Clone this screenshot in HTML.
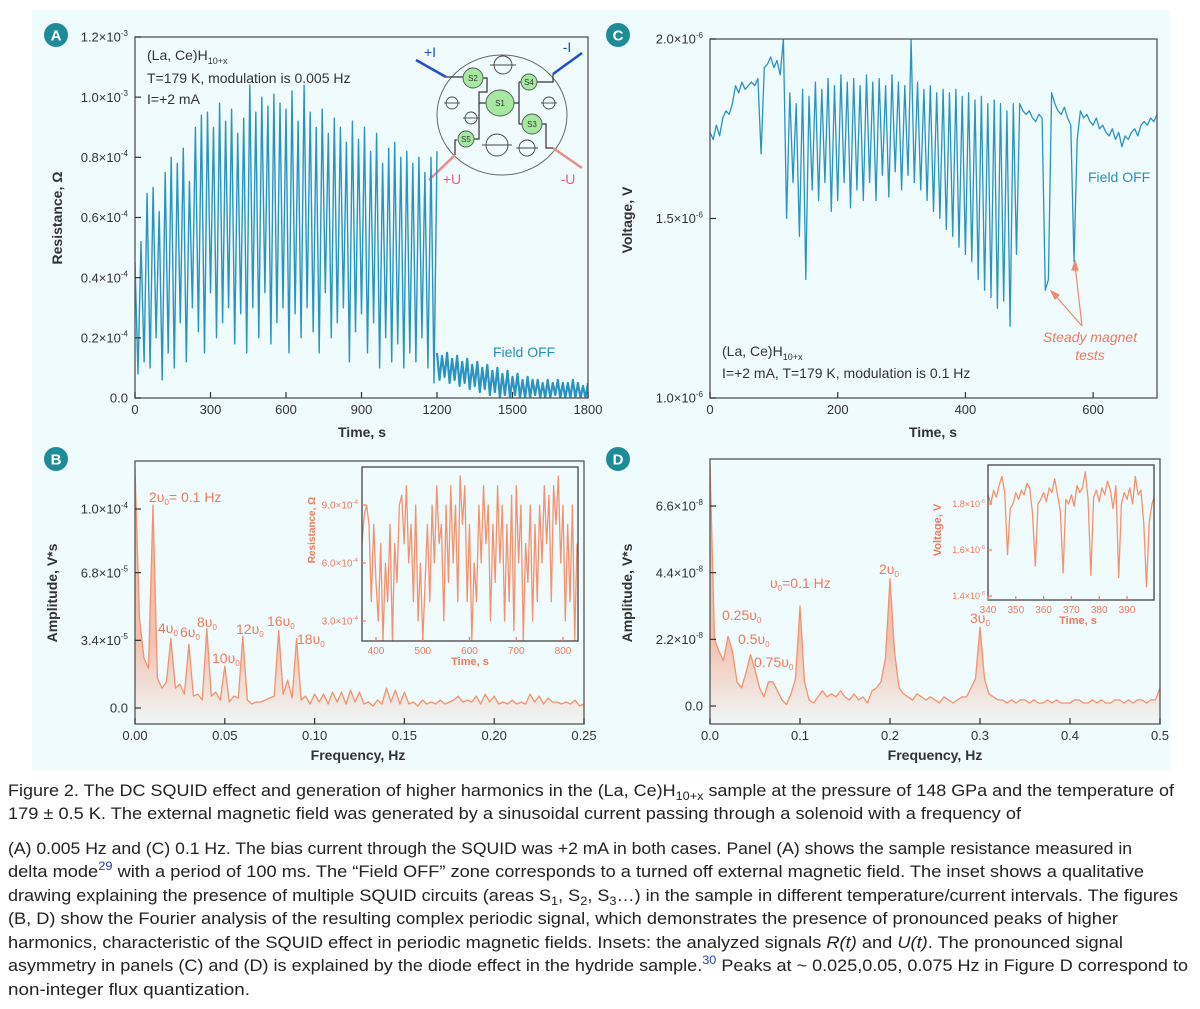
<!DOCTYPE html>
<html><head><meta charset="utf-8">
<style>
html,body{margin:0;padding:0;background:#fff;}
body{width:1200px;height:1004px;overflow:hidden;font-family:"Liberation Sans",sans-serif;}
svg text{font-family:"Liberation Sans",sans-serif;}
</style></head>
<body>
<svg id="fig" width="1200" height="1004" viewBox="0 0 1200 1004" xmlns="http://www.w3.org/2000/svg">
<defs>
<linearGradient id="gB" gradientUnits="userSpaceOnUse" x1="0" y1="640" x2="0" y2="724"><stop offset="0" stop-color="#f4926f" stop-opacity="0.55"/><stop offset="1" stop-color="#f4926f" stop-opacity="0.04"/></linearGradient>
<linearGradient id="gD" gradientUnits="userSpaceOnUse" x1="0" y1="640" x2="0" y2="724"><stop offset="0" stop-color="#f4926f" stop-opacity="0.55"/><stop offset="1" stop-color="#f4926f" stop-opacity="0.04"/></linearGradient>
<clipPath id="cA"><rect x="135" y="37" width="453" height="361"/></clipPath>
<clipPath id="cC"><rect x="710" y="39" width="447" height="359"/></clipPath>
<clipPath id="cB"><rect x="135" y="461" width="449" height="263"/></clipPath>
<clipPath id="cD"><rect x="710" y="459" width="450" height="265"/></clipPath>
<clipPath id="cBi"><rect x="362" y="467" width="216" height="174"/></clipPath>
<clipPath id="cDi"><rect x="988" y="465" width="166" height="135"/></clipPath>
</defs>
<rect x="32" y="10" width="1138" height="760" fill="#f0fbfd"/>

<g><circle cx="56" cy="35" r="12" fill="#1f8a98"/><text x="56" y="40.5" font-size="15" fill="#fff" text-anchor="middle" font-weight="bold">A</text></g>
<g><circle cx="618" cy="35" r="12" fill="#1f8a98"/><text x="618" y="40.5" font-size="15" fill="#fff" text-anchor="middle" font-weight="bold">C</text></g>
<g><circle cx="56" cy="459" r="12" fill="#1f8a98"/><text x="56" y="464.5" font-size="15" fill="#fff" text-anchor="middle" font-weight="bold">B</text></g>
<g><circle cx="618" cy="459" r="12" fill="#1f8a98"/><text x="618" y="464.5" font-size="15" fill="#fff" text-anchor="middle" font-weight="bold">D</text></g>

<text transform="translate(62,218) rotate(-90)" text-anchor="middle" font-size="14" font-weight="bold" fill="#333">Resistance, Ω</text>
<text x="362" y="437" text-anchor="middle" font-size="14" font-weight="bold" fill="#333">Time, s</text>
<text transform="translate(632,220) rotate(-90)" text-anchor="middle" font-size="14" font-weight="bold" fill="#333">Voltage, V</text>
<text x="933" y="437" text-anchor="middle" font-size="14" font-weight="bold" fill="#333">Time, s</text>
<text transform="translate(57,593) rotate(-90)" text-anchor="middle" font-size="14" font-weight="bold" fill="#333">Amplitude, V*s</text>
<text x="358" y="760" text-anchor="middle" font-size="14" font-weight="bold" fill="#333">Frequency, Hz</text>
<text transform="translate(632,593) rotate(-90)" text-anchor="middle" font-size="14" font-weight="bold" fill="#333">Amplitude, V*s</text>
<text x="935" y="760" text-anchor="middle" font-size="14" font-weight="bold" fill="#333">Frequency, Hz</text>

<g font-size="14" fill="#333">
<text x="147" y="60">(La, Ce)H<tspan font-size="9" dy="4">10+x</tspan></text>
<text x="147" y="83">T=179 K, modulation is 0.005 Hz</text>
<text x="147" y="104">I=+2 mA</text>
</g>
<text x="493" y="357" font-size="14" fill="#2a8fb5">Field OFF</text>

<g fill="none">
<ellipse cx="502" cy="115" rx="65" ry="60" stroke="#666" stroke-width="1"/>
<path d="M446,77 H463 M483,78 H487 V92 H479 V139 H474 M457,140 H455 V155 M479,103 H486 M514,103 H519 M519,82 V124 M519,82 H521 M519,124 H522 M537,82 H553 V74 M542,124 H546 V148 H553" stroke="#333" stroke-width="1.2"/>
<line x1="416" y1="60" x2="446" y2="77" stroke="#1f4fc8" stroke-width="2.5"/>
<line x1="582" y1="53" x2="553" y2="74" stroke="#1f4fc8" stroke-width="2.5"/>
<line x1="429" y1="180" x2="455" y2="155" stroke="#f08a8a" stroke-width="2.5"/>
<line x1="582" y1="168" x2="553" y2="148" stroke="#f08a8a" stroke-width="2.5"/>
<g stroke="#444" stroke-width="0.9">
<circle cx="503" cy="65" r="9"/><line x1="490" y1="65" x2="516" y2="65"/>
<circle cx="452" cy="103" r="6"/><line x1="444" y1="103" x2="460" y2="103"/>
<circle cx="471" cy="118" r="6"/><line x1="463" y1="118" x2="479" y2="118"/>
<circle cx="549" cy="103" r="6"/><line x1="541" y1="103" x2="557" y2="103"/>
<circle cx="497" cy="145" r="11"/><line x1="482" y1="145" x2="512" y2="145"/>
<circle cx="527" cy="148" r="8"/><line x1="516" y1="148" x2="538" y2="148"/>
</g>
<g fill="#a6e8a0" stroke="#555" stroke-width="0.9">
<ellipse cx="500" cy="103" rx="14" ry="13"/><circle cx="473" cy="78" r="10"/><circle cx="529" cy="82" r="8"/><circle cx="532" cy="124" r="10"/><circle cx="466" cy="139" r="8"/>
</g>
<g font-size="8" fill="#333" stroke="none" text-anchor="middle">
<text x="500" y="106">S1</text><text x="473" y="81">S2</text><text x="529" y="85">S4</text><text x="532" y="127">S3</text><text x="466" y="142">S5</text>
</g>
<text x="430" y="57" font-size="14" fill="#1f4fc8" stroke="none" text-anchor="middle">+I</text>
<text x="567" y="52" font-size="14" fill="#1f4fc8" stroke="none" text-anchor="middle">-I</text>
<text x="452" y="184" font-size="14" fill="#e8607a" stroke="none" text-anchor="middle">+U</text>
<text x="568" y="184" font-size="14" fill="#e8607a" stroke="none" text-anchor="middle">-U</text>
</g>

<g font-size="14" fill="#333">
<text x="722" y="356">(La, Ce)H<tspan font-size="9" dy="4">10+x</tspan></text>
<text x="722" y="378">I=+2 mA, T=179 K, modulation is 0.1 Hz</text>
</g>
<text x="1088" y="182" font-size="14" fill="#2a8fb5">Field OFF</text>
<g>
<text x="1090" y="342" font-size="14" font-style="italic" fill="#ee7a5e" text-anchor="middle">Steady magnet</text>
<text x="1090" y="360" font-size="14" font-style="italic" fill="#ee7a5e" text-anchor="middle">tests</text>
<g stroke="#ee8a6e" stroke-width="1.2" fill="#ee8a6e">
<line x1="1082" y1="326" x2="1053" y2="293"/><polygon points="1051,291 1059,295 1055,299"/>
<line x1="1082" y1="326" x2="1075" y2="265"/><polygon points="1075,261 1078,270 1072,270"/>
</g>
</g>

<g font-size="14" fill="#ee7a5e">
<text x="149" y="502">2υ<tspan font-size="8" dy="3">0</tspan><tspan dy="-3">= 0.1 Hz</tspan></text>
<text x="158" y="633">4υ<tspan font-size="8" dy="3">0</tspan></text>
<text x="180" y="637">6υ<tspan font-size="8" dy="3">0</tspan></text>
<text x="197" y="627">8υ<tspan font-size="8" dy="3">0</tspan></text>
<text x="212" y="663">10υ<tspan font-size="8" dy="3">0</tspan></text>
<text x="236" y="634">12υ<tspan font-size="8" dy="3">0</tspan></text>
<text x="267" y="626">16υ<tspan font-size="8" dy="3">0</tspan></text>
<text x="297" y="644">18υ<tspan font-size="8" dy="3">0</tspan></text>
</g>
<g font-size="14" fill="#ee7a5e">
<text x="770" y="588">υ<tspan font-size="8" dy="3">0</tspan><tspan dy="-3">=0.1 Hz</tspan></text>
<text x="879" y="574">2υ<tspan font-size="8" dy="3">0</tspan></text>
<text x="722" y="620">0.25υ<tspan font-size="8" dy="3">0</tspan></text>
<text x="738" y="644">0.5υ<tspan font-size="8" dy="3">0</tspan></text>
<text x="754" y="667">0.75υ<tspan font-size="8" dy="3">0</tspan></text>
<text x="970" y="623">3υ<tspan font-size="8" dy="3">0</tspan></text>
</g>

<g font-size="17" fill="#222">
<text x="8" y="796" textLength="1166" lengthAdjust="spacingAndGlyphs">Figure 2.  The DC SQUID effect and generation of higher harmonics in the (La, Ce)H<tspan font-size="12" dy="4">10+x</tspan><tspan dy="-4"> sample at the pressure of 148 GPa and the temperature of</tspan></text>
<text x="8" y="819" textLength="1013" lengthAdjust="spacingAndGlyphs">179 ± 0.5 K. The external magnetic field was generated by a sinusoidal current passing through a solenoid with a frequency of</text>
<text x="8" y="854" textLength="1124" lengthAdjust="spacingAndGlyphs">(A) 0.005 Hz and (C) 0.1 Hz. The bias current through the SQUID was +2 mA in both cases. Panel (A) shows the sample resistance measured in</text>
<text x="8" y="877" textLength="1136" lengthAdjust="spacingAndGlyphs">delta mode<tspan font-size="12" dy="-7" fill="#2b3fb0">29</tspan><tspan dy="7"> with a period of 100 ms. The “Field OFF” zone corresponds to a turned off external magnetic field. The inset shows a qualitative</tspan></text>
<text x="8" y="901" textLength="1170" lengthAdjust="spacingAndGlyphs">drawing explaining the presence of multiple SQUID circuits (areas S<tspan font-size="12" dy="4">1</tspan><tspan dy="-4">, S</tspan><tspan font-size="12" dy="4">2</tspan><tspan dy="-4">, S</tspan><tspan font-size="12" dy="4">3</tspan><tspan dy="-4">…) in the sample in different temperature/current intervals. The figures</tspan></text>
<text x="8" y="924" textLength="1110" lengthAdjust="spacingAndGlyphs">(B, D) show the Fourier analysis of the resulting complex periodic signal, which demonstrates the presence of pronounced peaks of higher</text>
<text x="8" y="948" textLength="1115" lengthAdjust="spacingAndGlyphs">harmonics, characteristic of the SQUID effect in periodic magnetic fields. Insets: the analyzed signals <tspan font-style="italic">R(t)</tspan> and <tspan font-style="italic">U(t)</tspan>. The pronounced signal</text>
<text x="8" y="971" textLength="1180" lengthAdjust="spacingAndGlyphs">asymmetry in panels (C) and (D) is explained by the diode effect in the hydride sample.<tspan font-size="12" dy="-7" fill="#2b3fb0">30</tspan><tspan dy="7"> Peaks at ~ 0.025,0.05, 0.075 Hz in Figure D correspond to</tspan></text>
<text x="8" y="995" textLength="242" lengthAdjust="spacingAndGlyphs">non-integer flux quantization.</text>
</g>
</svg>

<script>
const aOnStart = 0, aOnEnd = 1200;
const aOnValues = [0.45,0.08,0.52,0.12,0.68,0.1,0.7,0.2,0.62,0.06,0.75,0.15,0.8,0.1,0.78,0.25,0.83,0.12,0.72,0.3,0.9,0.22,0.94,0.15,0.95,0.35,0.9,0.2,0.98,0.25,0.92,0.3,0.96,0.18,0.88,0.28,0.93,0.15,1.04,0.3,0.95,0.2,1.0,0.35,0.97,0.18,1.01,0.25,0.98,0.3,0.96,0.15,1.02,0.28,0.92,0.2,1.04,0.3,0.95,0.22,0.9,0.15,0.96,0.35,0.88,0.2,0.93,0.25,0.9,0.3,0.85,0.12,0.92,0.22,0.86,0.28,0.9,0.15,0.82,0.25,0.88,0.1,0.78,0.2,0.83,0.12,0.85,0.18,0.8,0.1,0.82,0.15,0.78,0.12,0.8,0.2,0.75,0.1,0.8,0.05,0.82];
const aOffStart = 1200, aOffEnd = 1800;
const aOffValues = [0.15,0.06,0.14,0.07,0.15,0.05,0.13,0.06,0.14,0.04,0.12,0.05,0.13,0.03,0.11,0.04,0.12,0.02,0.1,0.03,0.11,0.01,0.09,0.02,0.1,0.0,0.08,0.01,0.09,0.0,0.07,0.01,0.08,0.0,0.06,0.0,0.07,0.0,0.06,0.01,0.06,0.0,0.05,0.0,0.06,0.0,0.05,0.01,0.06,0.0,0.05,0.0,0.05,0.0,0.06,0.0,0.05,0.0,0.04,0.0,0.05];
const aXTicks = [0,300,600,900,1200,1500,1800];
const aYTicks = [0,0.2,0.4,0.6,0.8,1.0,1.2];
const aYTickMant = ["0.0","0.2×10","0.4×10","0.6×10","0.8×10","1.0×10","1.2×10"];
const aYTickExp = ["","-4","-4","-4","-4","-3","-3"];

const cStart = 0, cEnd = 700;
const cValues = [1.74,1.72,1.76,1.73,1.78,1.8,1.79,1.82,
1.87,1.85,1.88,1.86,1.87,1.88,1.87,1.89,
1.68,1.92,1.93,1.95,1.92,1.94,1.9,
2.0,
1.5,1.85,1.6,1.82,1.45,1.86,1.33,1.84,1.58,1.88,
1.55,1.86,1.6,1.89,1.52,1.87,1.55,1.9,1.6,1.88,
1.53,1.89,1.58,1.87,1.55,1.9,1.6,1.88,1.55,1.89,
1.62,1.87,1.56,1.9,1.63,1.88,1.58,1.87,1.62,2.0,
1.6,1.88,1.58,1.86,1.55,1.87,1.52,1.85,1.5,1.86,
1.47,1.85,1.45,1.86,1.42,1.84,1.4,1.85,1.38,1.83,
1.33,1.84,1.3,1.82,1.28,1.83,1.25,1.82,1.27,1.8,
1.2,1.82,1.4,
1.82,1.8,1.79,1.8,1.78,1.77,1.79,1.78,
1.3,1.33,1.85,1.82,1.8,1.79,1.81,1.78,1.76,1.38,1.72,
1.8,1.78,1.79,1.77,1.76,1.78,1.75,1.76,1.74,1.73,1.75,1.72,1.74,1.7,1.73,1.72,1.74,1.75,1.73,1.76,1.77,1.76,1.78,1.77,1.79];
const cXTicks = [0,200,400,600];
const cYTicks = [1.0,1.5,2.0];
const cYTickMant = ["1.0×10","1.5×10","2.0×10"];
const cYTickExp = ["-6","-6","-6"];

const bStart = 0, bEnd = 0.25;
const bValues = [12,4.5,2.5,2.0,10.2,1.5,1.0,1.3,3.5,1.0,1.2,0.7,3.2,0.6,0.7,0.4,4.0,0.6,0.8,0.4,2.1,0.3,0.6,0.5,3.6,0.4,0.2,0.3,0.3,0.4,0.5,0.6,3.9,0.7,1.4,0.5,3.5,0.4,0.6,0.2,0.7,0.3,0.7,0.2,0.8,0.3,0.8,0.2,0.9,0.3,0.8,0.2,0.3,0.1,0.4,0.2,1.0,0.3,0.9,0.2,0.8,0.2,0.3,0.1,0.4,0.2,0.3,0.2,0.4,0.2,0.3,0.4,0.6,0.3,0.4,0.3,0.6,0.2,0.7,0.3,0.6,0.2,0.3,0.2,0.4,0.2,0.3,0.2,0.7,0.3,0.6,0.2,0.5,0.3,0.3,0.2,0.3,0.2,0.4,0.1,0.2];
const bXTicks = [0,0.05,0.10,0.15,0.20,0.25];
const bXTickLabels = ["0.00","0.05","0.10","0.15","0.20","0.25"];
const bYTicks = [0,3.4,6.8,10];
const bYTickMant = ["0.0","3.4×10","6.8×10","1.0×10"];
const bYTickExp = ["","-5","-5","-4"];

const dStart = 0, dEnd = 0.5;
const dValues = [8.0,2.2,1.8,1.5,2.3,1.8,0.8,0.6,1.1,1.7,1.2,0.6,0.3,0.8,0.8,0.5,0.2,0.05,0.4,0.9,3.3,0.8,0.2,0.1,0.3,0.5,0.3,0.4,0.3,0.5,0.3,0.2,0.4,0.2,0.3,0.1,0.5,0.6,0.8,1.6,4.2,1.8,0.6,0.4,0.3,0.2,0.4,0.3,0.2,0.3,0.2,0.1,0.3,0.2,0.1,0.2,0.3,0.3,0.6,0.9,2.6,0.9,0.4,0.3,0.2,0.2,0.1,0.2,0.1,0.2,0.2,0.1,0.2,0.1,0.1,0.2,0.1,0.2,0.1,0.1,0.1,0.2,0.2,0.1,0.1,0.2,0.1,0.2,0.1,0.1,0.2,0.2,0.1,0.2,0.1,0.2,0.2,0.1,0.2,0.2,0.6];
const dXTicks = [0,0.1,0.2,0.3,0.4,0.5];
const dXTickLabels = ["0.0","0.1","0.2","0.3","0.4","0.5"];
const dYTicks = [0,2.2,4.4,6.6];
const dYTickMant = ["0.0","2.2×10","4.4×10","6.6×10"];
const dYTickExp = ["","-8","-8","-8"];

const biStart = 370, biEnd = 830;
const biValues = [7,8.5,9,8,4,8,5,3,7,2,6,4,8,2,7,5,9,9.5,7,10,6,8,4,9,3,6,2,5,8,4,9,6,10,7,8,3,9,5,10,6,9,4,10.5,8,10,4,8,2,6,4,9,6,10,7,9,3,8,5,10,6,9,3,8,4,9.5,2.5,10,6,9,2,7,5,9,3,8,4,9,6,10,7,9.5,4,10,8,10.5,6,9,3,8,4,9,2,7];
const biXTicks = [400,500,600,700,800];
const biYTicks = [3,6,9];
const biYTickMant = ["3.0×10","6.0×10","9.0×10"];
const biYTickExp = ["-4","-4","-4"];

const diStart = 340, diEnd = 400;
const diValues = [1.84,1.8,1.86,1.83,1.88,1.92,1.85,1.58,1.78,1.8,
1.85,1.82,1.86,1.84,1.89,1.87,1.76,1.53,1.8,1.82,
1.85,1.81,1.87,1.85,1.91,1.84,1.77,1.5,1.82,1.8,
1.84,1.79,1.88,1.85,1.87,1.94,1.82,1.49,1.83,1.86,
1.81,1.87,1.84,1.9,1.86,1.78,1.88,1.48,1.8,1.85,
1.82,1.87,1.8,1.92,1.84,1.86,1.72,1.44,1.72,1.8,1.84];
const diXTicks = [340,350,360,370,380,390];
const diYTicks = [1.4,1.6,1.8];
const diYTickMant = ["1.4×10","1.6×10","1.8×10"];
const diYTickExp = ["-6","-6","-6"];

const NS = 'http://www.w3.org/2000/svg';
const svg = document.getElementById('fig');
function mk(tag, attrs, parent) {
  const e = document.createElementNS(NS, tag);
  for (const k in attrs) e.setAttribute(k, attrs[k]);
  (parent || svg).appendChild(e);
  return e;
}
function lin(d0, d1, r0, r1) { return v => r0 + (v - d0) / (d1 - d0) * (r1 - r0); }
function seriesPts(vals, t0, t1, xs, ys) {
  const n = vals.length;
  return vals.map((v, i) => [xs(t0 + (t1 - t0) * i / (n - 1)), ys(v)]);
}
function drawFrame(name, x0, y0, x1, y1, color, sw) {
  const r = mk('rect', {x: x0, y: y0, width: x1 - x0, height: y1 - y0, fill: 'none', stroke: color, 'stroke-width': sw});
  
  
}
function drawXTicks(name, ticks, labels, xs, yb, color, fs, tlen) {
  const g = mk('g', {});
  
  
  ticks.forEach((t, i) => {
    mk('line', {x1: xs(t), x2: xs(t), y1: yb, y2: yb - tlen, stroke: color, 'stroke-width': 1.2}, g);
    const tx = mk('text', {x: xs(t), y: yb + fs + 3, 'text-anchor': 'middle', 'font-size': fs, fill: color}, g);
    tx.textContent = labels[i];
  });
}
function drawYTicks(name, ticks, mant, exp, ys, xl, color, fs, tlen, gap) {
  const g = mk('g', {});
  
  
  ticks.forEach((t, i) => {
    mk('line', {x1: xl, x2: xl + tlen, y1: ys(t), y2: ys(t), stroke: color, 'stroke-width': 1.2}, g);
    const tx = mk('text', {x: xl - gap, y: ys(t) + fs * 0.36, 'text-anchor': 'end', 'font-size': fs, fill: color}, g);
    tx.appendChild(document.createTextNode(mant[i]));
    if (exp[i]) {
      const ts = mk('tspan', {dy: -fs * 0.45, 'font-size': fs * 0.62}, tx);
      ts.textContent = exp[i];
    }
  });
}
function drawLine(name, pts, color, sw, clip) {
  const p = mk('polyline', {points: pts.map(q => q[0].toFixed(1) + ',' + q[1].toFixed(1)).join(' '), fill: 'none', stroke: color, 'stroke-width': sw, 'stroke-linejoin': 'round', 'clip-path': 'url(#' + clip + ')'});
  
  
}
function drawArea(name, pts, yb, fill, clip) {
  const all = [[pts[0][0], yb]].concat(pts).concat([[pts[pts.length - 1][0], yb]]);
  const p = mk('polygon', {points: all.map(q => q[0].toFixed(1) + ',' + q[1].toFixed(1)).join(' '), fill: fill, stroke: 'none', 'clip-path': 'url(#' + clip + ')'});
  
  
}

const BLUE = '#2a93c2', ORANGE = '#f4926f', OTXT = '#ee7a5e', AX = '#555';

const xA = lin(0, 1800, 135, 588), yA = lin(0, 1.2, 398, 37);
drawLine('panel-a-resistance-field-on', seriesPts(aOnValues, aOnStart, aOnEnd, xA, yA), BLUE, 1.4, 'cA');
drawLine('panel-a-resistance-field-off', seriesPts(aOffValues, aOffStart, aOffEnd, xA, yA), BLUE, 2.2, 'cA');
drawFrame('panel-a-plot-frame', 135, 37, 588, 398, AX, 1.3);
drawXTicks('panel-a-x-axis', aXTicks, aXTicks.map(String), xA, 398, '#333', 13, 6);
drawYTicks('panel-a-y-axis', aYTicks, aYTickMant, aYTickExp, yA, 135, '#333', 13, 6, 7);

const xC = lin(0, 700, 710, 1157), yC = lin(1.0, 2.0, 398, 39);
drawLine('panel-c-voltage-series', seriesPts(cValues, cStart, cEnd, xC, yC), BLUE, 1.3, 'cC');
drawFrame('panel-c-plot-frame', 710, 39, 1157, 398, AX, 1.3);
drawXTicks('panel-c-x-axis', cXTicks, cXTicks.map(String), xC, 398, '#333', 13, 6);
drawYTicks('panel-c-y-axis', cYTicks, cYTickMant, cYTickExp, yC, 710, '#333', 13, 6, 7);

const xB = lin(0, 0.25, 135, 584), yB = lin(0, 10, 708, 509);
const bPts = seriesPts(bValues, bStart, bEnd, xB, yB);
drawArea('panel-b-spectrum-fill', bPts, 724, 'url(#gB)', 'cB');
drawLine('panel-b-spectrum-line', bPts, ORANGE, 1.3, 'cB');
drawFrame('panel-b-plot-frame', 135, 461, 584, 724, AX, 1.3);
drawXTicks('panel-b-x-axis', bXTicks, bXTickLabels, xB, 724, '#333', 13, 6);
drawYTicks('panel-b-y-axis', bYTicks, bYTickMant, bYTickExp, yB, 135, '#333', 13, 6, 7);

const xD = lin(0, 0.5, 710, 1160), yD = lin(0, 6.6, 706, 506);
const dPts = seriesPts(dValues, dStart, dEnd, xD, yD);
drawArea('panel-d-spectrum-fill', dPts, 724, 'url(#gD)', 'cD');
drawLine('panel-d-spectrum-line', dPts, ORANGE, 1.3, 'cD');
drawFrame('panel-d-plot-frame', 710, 459, 1160, 724, AX, 1.3);
drawXTicks('panel-d-x-axis', dXTicks, dXTickLabels, xD, 724, '#333', 13, 6);
drawYTicks('panel-d-y-axis', dYTicks, dYTickMant, dYTickExp, yD, 710, '#333', 13, 6, 7);

const xBi = lin(400, 800, 376, 563), yBi = lin(3, 9, 621, 505);
mk('rect', {x: 362, y: 467, width: 216, height: 174, fill: '#f0fbfd'});
drawLine('inset-b-resistance-series', seriesPts(biValues, biStart, biEnd, xBi, yBi), ORANGE, 1.3, 'cBi');
drawFrame('inset-b-plot-frame', 362, 467, 578, 641, '#444', 1.3);
drawXTicks('inset-b-x-axis', biXTicks, biXTicks.map(String), xBi, 641, OTXT, 10, 4);
drawYTicks('inset-b-y-axis', biYTicks, biYTickMant, biYTickExp, yBi, 362, OTXT, 10, 4, 4);
const tbi1 = mk('text', {x: 470, y: 665, 'text-anchor': 'middle', 'font-size': 11, 'font-weight': 'bold', fill: OTXT});
tbi1.textContent = 'Time, s';


const tbi2 = mk('text', {transform: 'translate(315,530) rotate(-90)', 'text-anchor': 'middle', 'font-size': 10, 'font-weight': 'bold', fill: OTXT});
tbi2.textContent = 'Resistance, Ω';



const xDi = lin(340, 390, 988, 1127), yDi = lin(1.4, 1.8, 596, 504);
mk('rect', {x: 988, y: 465, width: 166, height: 135, fill: '#f0fbfd'});
drawLine('inset-d-voltage-series', seriesPts(diValues, diStart, diEnd, xDi, yDi), ORANGE, 1.3, 'cDi');
drawFrame('inset-d-plot-frame', 988, 465, 1154, 600, '#444', 1.3);
drawXTicks('inset-d-x-axis', diXTicks, diXTicks.map(String), xDi, 600, OTXT, 10, 4);
drawYTicks('inset-d-y-axis', diYTicks, diYTickMant, diYTickExp, yDi, 988, OTXT, 9, 4, 3);
const tdi1 = mk('text', {x: 1078, y: 624, 'text-anchor': 'middle', 'font-size': 11, 'font-weight': 'bold', fill: OTXT});
tdi1.textContent = 'Time, s';


const tdi2 = mk('text', {transform: 'translate(941,530) rotate(-90)', 'text-anchor': 'middle', 'font-size': 11, 'font-weight': 'bold', fill: OTXT});
tdi2.textContent = 'Voltage, V';


</script>
</body></html>
